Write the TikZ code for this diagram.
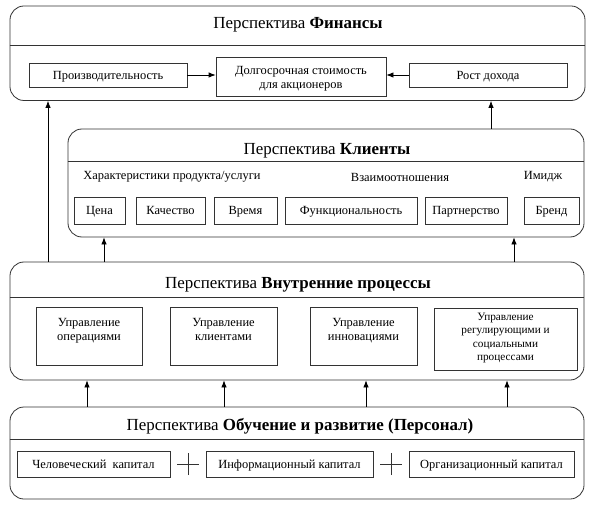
\documentclass[tikz,border=0pt]{standalone}
\usepackage{fontspec}
\setmainfont{Liberation Serif}
\usetikzlibrary{arrows.meta}
\definecolor{ln}{HTML}{333333}
\tikzset{
  bigbox/.style={draw=ln, line width=0.8bp, rounded corners=14bp, inner sep=0pt},
  smallbox/.style={draw=ln, line width=0.8bp, inner sep=0pt, font=\fontsize{12.5}{14}\selectfont, align=center, text height=10bp, text depth=1.5bp},
  title/.style={font=\fontsize{17}{20}\selectfont, inner sep=0pt},
  sub/.style={font=\fontsize{12.5}{14}\selectfont, inner sep=0pt},
  boxtext/.style={font=\fontsize{12.5}{14}\selectfont, inner sep=0pt, align=center, anchor=north},
  hline/.style={draw=ln, line width=0.8bp},
  arr/.style={draw=black, line width=0.8bp, -{Latex[length=7bp,width=5.5bp]}}
}
\begin{document}
\begin{tikzpicture}[x=1bp,y=-1bp]
\useasboundingbox (0,0) rectangle (593,505);
% big boxes
\node[bigbox, minimum width=575bp, minimum height=94.5bp] (fin) at (297.5,53.25) {};
\node[bigbox, minimum width=516bp, minimum height=108bp] (cli) at (326,183) {};
\node[bigbox, minimum width=574bp, minimum height=118bp] (int) at (297,321) {};
\node[bigbox, minimum width=574bp, minimum height=92bp] (lrn) at (297,453) {};
% header lines
\draw[hline] (fin.west |- 0,45) -- (fin.east |- 0,45);
\draw[hline] (cli.west |- 0,161) -- (cli.east |- 0,161);
\draw[hline] (int.west |- 0,297) -- (int.east |- 0,297);
\draw[hline] (lrn.west |- 0,439) -- (lrn.east |- 0,439);
% titles
\node[title] (tfin) at (298,25) {Перспектива \textbf{Финансы}};
\node[title] (tcli) at (327,151) {Перспектива \textbf{Клиенты}};
\node[title] (tint) at (298,285) {Перспектива \textbf{Внутренние процессы}};
\node[title] (tlrn) at (300,426) {Перспектива \textbf{Обучение и развитие (Персонал)}};
% finance boxes
\node[smallbox, minimum width=158bp, minimum height=24bp] (prod) at (108,75) {Производительность};
\node[smallbox, minimum width=170bp, minimum height=39bp] (lts) at (301,76.5) {};
\node[boxtext, anchor=center] (ltst) at ([yshift=-2.5bp]lts.center) {Долгосрочная стоимость\\для акционеров};
\node[smallbox, minimum width=158bp, minimum height=24bp] (rost) at (488,75) {Рост дохода};
\draw[arr] (prod.east) -- (prod.east -| lts.west);
\draw[arr] (rost.west) -- (rost.west -| lts.east);
% clients
\node[sub] (s1) at (172,177) {Характеристики продукта/услуги};
\node[sub] (s2) at (400,177) {Взаимоотношения};
\node[sub] (s3) at (543,177) {Имидж};
\node[smallbox, minimum width=51bp, minimum height=27bp] (c1) at (99.5,210.5) {Цена};
\node[smallbox, minimum width=69bp, minimum height=27bp] (c2) at (170.5,210.5) {Качество};
\node[smallbox, minimum width=63bp, minimum height=27bp] (c3) at (245.5,210.5) {Время};
\node[smallbox, minimum width=132bp, minimum height=27bp] (c4) at (351,210.5) {Функциональность};
\node[smallbox, minimum width=82bp, minimum height=27bp] (c5) at (466,210.5) {Партнерство};
\node[smallbox, minimum width=55bp, minimum height=27bp] (c6) at (551.5,210.5) {Бренд};
% internal
\node[smallbox, minimum width=106bp, minimum height=58bp] (b1) at (89,336) {};
\node[smallbox, minimum width=107bp, minimum height=58bp] (b2) at (223.5,336) {};
\node[smallbox, minimum width=107bp, minimum height=58bp] (b3) at (363.5,336) {};
\node[smallbox, minimum width=143bp, minimum height=62bp] (b4) at (505.5,339) {};
\node[boxtext] (b1t) at ([yshift=-12bp]b1.north) {Управление\\операциями};
\node[boxtext] (b2t) at ([yshift=-12bp]b2.north) {Управление\\клиентами};
\node[boxtext] (b3t) at ([yshift=-12bp]b3.north) {Управление\\инновациями};
\node[boxtext, font=\fontsize{11.3}{13.6}\selectfont] (b4t) at ([yshift=-5bp]b4.north) {Управление\\регулирующими и\\социальными\\процессами};
% learning
\node[smallbox, minimum width=153bp, minimum height=26bp] (h1) at (93.5,464) {Человеческий\ \ капитал};
\node[smallbox, minimum width=167bp, minimum height=26bp] (h2) at (289.5,464) {Информационный капитал};
\node[smallbox, minimum width=165bp, minimum height=26bp] (h3) at (491.5,464) {Организационный капитал};
\coordinate (p1) at (188,464);
\coordinate (p2) at (391,464);
\draw[hline] ([xshift=-11bp]p1) -- ([xshift=11bp]p1) ([yshift=-11bp]p1) -- ([yshift=11bp]p1);
\draw[hline] ([xshift=-11bp]p2) -- ([xshift=11bp]p2) ([yshift=-11bp]p2) -- ([yshift=11bp]p2);
% arrows between levels
\coordinate (x1) at (48,0);
\coordinate (x2) at (491,0);
\coordinate (x3) at (104,0);
\coordinate (x4) at (514,0);
\coordinate (x5) at (87,0);
\coordinate (x6) at (224,0);
\coordinate (x7) at (366,0);
\coordinate (x8) at (507,0);
\draw[arr] (x1 |- int.north) -- (x1 |- fin.south);
\draw[arr] (x2 |- cli.north) -- (x2 |- fin.south);
\draw[arr] (x3 |- int.north) -- (x3 |- cli.south);
\draw[arr] (x4 |- int.north) -- (x4 |- cli.south);
\draw[arr] (x5 |- lrn.north) -- (x5 |- int.south);
\draw[arr] (x6 |- lrn.north) -- (x6 |- int.south);
\draw[arr] (x7 |- lrn.north) -- (x7 |- int.south);
\draw[arr] (x8 |- lrn.north) -- (x8 |- int.south);
\end{tikzpicture}
\end{document}
